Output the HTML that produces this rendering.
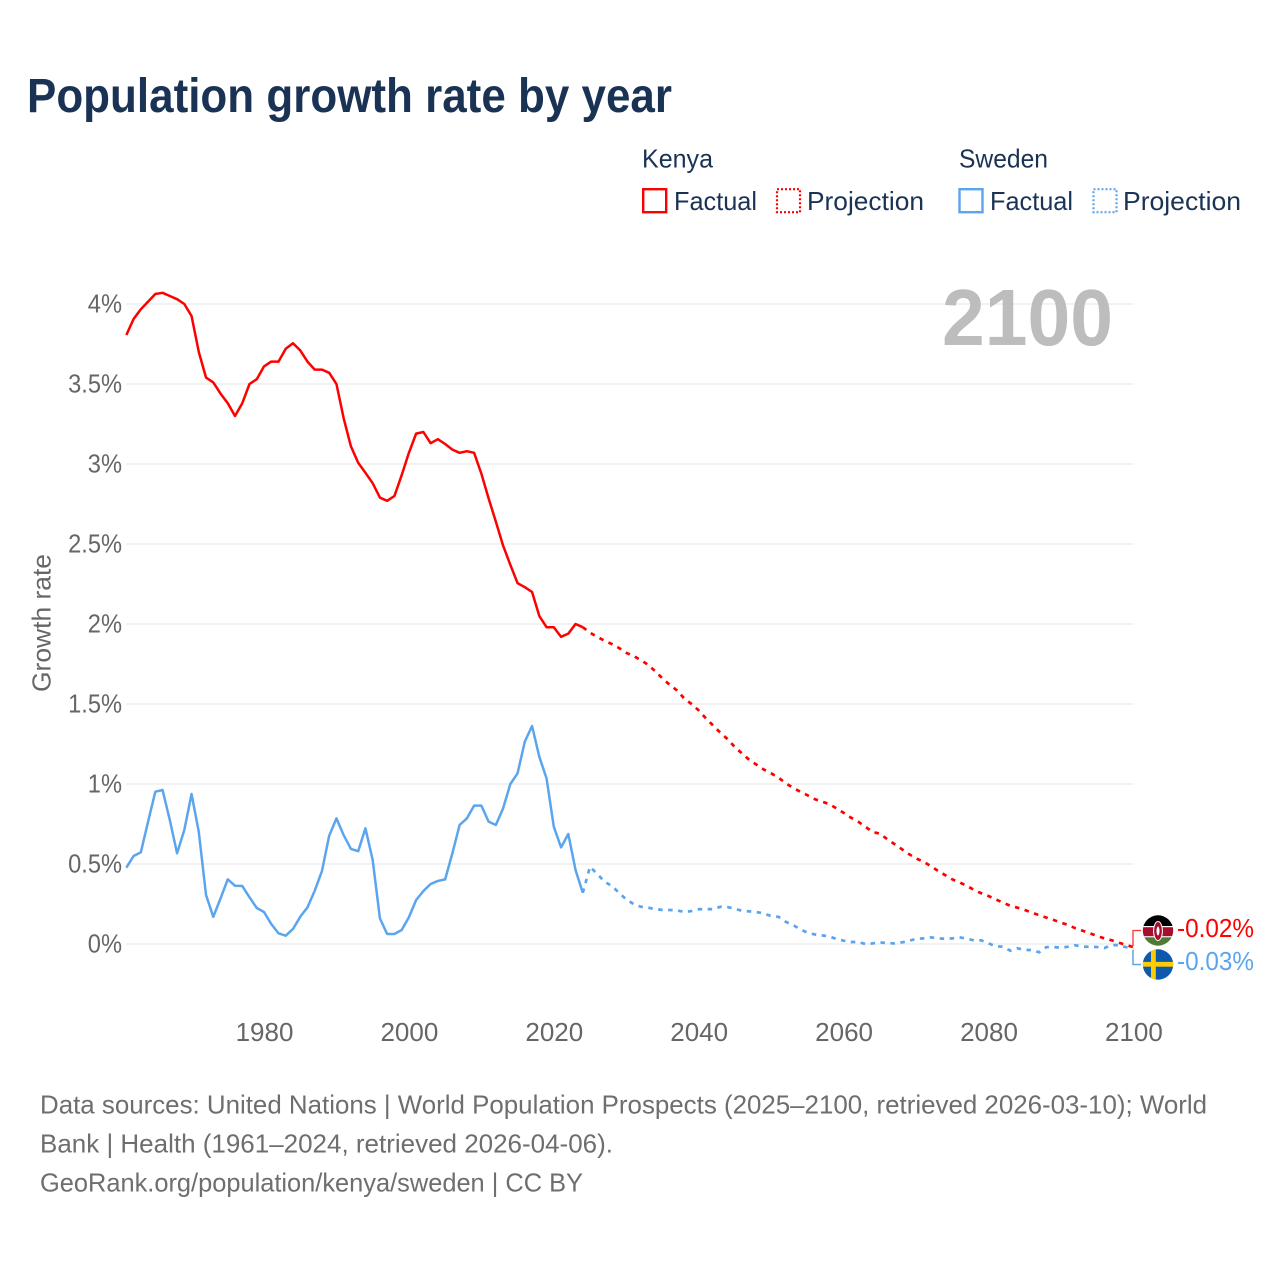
<!DOCTYPE html>
<html lang="en">
<head>
<meta charset="utf-8">
<title>Population growth rate by year</title>
<style>
  html, body { margin: 0; padding: 0; background: #fff; }
  svg { display: block; }
  text { font-family: "Liberation Sans", sans-serif; }
</style>
</head>
<body>
<svg id="chart" xmlns="http://www.w3.org/2000/svg" width="1280" height="1280" viewBox="0 0 1280 1280">
  <rect x="0" y="0" width="1280" height="1280" fill="#ffffff"/>
  <text x="27" y="112" font-size="48" font-weight="700" fill="#1a3355" textLength="645" lengthAdjust="spacingAndGlyphs">Population growth rate by year</text>

  <g font-size="26" fill="#1a3355">
    <text x="642" y="167.5" textLength="71" lengthAdjust="spacingAndGlyphs">Kenya</text>
    <rect x="643.2" y="189.2" width="23" height="23" fill="none" stroke="#ff0000" stroke-width="2.4"/>
    <text x="674" y="210" textLength="83" lengthAdjust="spacingAndGlyphs">Factual</text>
    <rect x="777" y="189.2" width="23" height="23" fill="none" stroke="#ff0000" stroke-width="2.2" stroke-dasharray="2 2"/>
    <text x="807" y="210" textLength="117" lengthAdjust="spacingAndGlyphs">Projection</text>
    <text x="959" y="167.5" textLength="89" lengthAdjust="spacingAndGlyphs">Sweden</text>
    <rect x="959.5" y="189.2" width="23" height="23" fill="none" stroke="#5ba5ee" stroke-width="2.4"/>
    <text x="990" y="210" textLength="83" lengthAdjust="spacingAndGlyphs">Factual</text>
    <rect x="1093.5" y="189.2" width="23" height="23" fill="none" stroke="#5ba5ee" stroke-width="2.2" stroke-dasharray="2 2"/>
    <text x="1123" y="210" textLength="118" lengthAdjust="spacingAndGlyphs">Projection</text>
  </g>

  <g id="grid"></g>
  <g id="y-ticks"></g>
  <g id="x-ticks"></g>

  <text transform="translate(50.5 623) rotate(-90)" text-anchor="middle" font-size="26" fill="#666666" textLength="138" lengthAdjust="spacingAndGlyphs">Growth rate</text>

  <text x="942" y="345" font-size="80" font-weight="700" fill="#bdbdbd" textLength="171" lengthAdjust="spacingAndGlyphs">2100</text>

  <g id="series"></g>

  <path d="M1133 946V930.5H1141" fill="none" stroke="#ff0000" stroke-width="1.3" opacity="0.8"/>
  <path d="M1133 950V964.5H1141" fill="none" stroke="#5ba5ee" stroke-width="1.5"/>

  <defs>
    <clipPath id="kenya-clip"><circle cx="1158" cy="930.5" r="15.2"/></clipPath>
    <clipPath id="sweden-clip"><circle cx="1158" cy="964.5" r="15.2"/></clipPath>
  </defs>
  <g clip-path="url(#kenya-clip)">
    <rect x="1142" y="915" width="32" height="11" fill="#000000"/>
    <rect x="1142" y="926" width="32" height="11.5" fill="#ffffff"/>
    <rect x="1142" y="927.2" width="32" height="9" fill="#a50f2d"/>
    <rect x="1142" y="937.3" width="32" height="10" fill="#4f7a35"/>
    <ellipse cx="1158" cy="931" rx="4.4" ry="9.5" fill="#a50f2d" stroke="#ffffff" stroke-width="1"/>
    <ellipse cx="1158" cy="931" rx="1.5" ry="4.5" fill="#ffffff"/>
  </g>
  <g clip-path="url(#sweden-clip)">
    <rect x="1142" y="949" width="32" height="32" fill="#0d5aab"/>
    <rect x="1151" y="949" width="4.8" height="32" fill="#fecc02"/>
    <rect x="1142" y="961.9" width="32" height="4.8" fill="#fecc02"/>
  </g>

  <text x="1177" y="937" font-size="26" fill="#ff0000" textLength="77" lengthAdjust="spacingAndGlyphs">-0.02%</text>
  <text x="1177" y="970" font-size="26" fill="#5ba5ee" textLength="77" lengthAdjust="spacingAndGlyphs">-0.03%</text>

  <g font-size="26" fill="#6e6e6e">
    <text x="40" y="1113.5" textLength="1167" lengthAdjust="spacingAndGlyphs">Data sources: United Nations | World Population Prospects (2025–2100, retrieved 2026-03-10); World</text>
    <text x="40" y="1152.5" textLength="573" lengthAdjust="spacingAndGlyphs">Bank | Health (1961–2024, retrieved 2026-04-06).</text>
    <text x="40" y="1191.5" textLength="543" lengthAdjust="spacingAndGlyphs">GeoRank.org/population/kenya/sweden | CC BY</text>
  </g>
</svg>

<script>
const factualStartYear = 1961;
const projectionStartYear = 2024;
const yTickValues = [0, 0.5, 1, 1.5, 2, 2.5, 3, 3.5, 4];
const xTickYears = [1980, 2000, 2020, 2040, 2060, 2080, 2100];

const kenyaFactual = [
  3.806, 3.906, 3.967, 4.015, 4.0625, 4.07, 4.05, 4.03, 4.0, 3.925,
  3.70, 3.54, 3.51, 3.44, 3.38, 3.30, 3.38, 3.50, 3.53, 3.61,
  3.64, 3.64, 3.72, 3.755, 3.71, 3.64, 3.59, 3.59, 3.57, 3.50,
  3.285, 3.11, 3.008, 2.945, 2.88, 2.79, 2.77, 2.80, 2.93, 3.07,
  3.19, 3.20, 3.13, 3.155, 3.125, 3.09, 3.07, 3.08, 3.07, 2.94,
  2.785, 2.64, 2.49, 2.37, 2.255, 2.23, 2.20, 2.05, 1.98, 1.98,
  1.92, 1.94, 2.0, 1.98
];

const kenyaProjection = [
  1.98, 1.945, 1.92, 1.895, 1.875, 1.85, 1.82, 1.80, 1.775, 1.745,
  1.705, 1.66, 1.62, 1.585, 1.535, 1.50, 1.46, 1.41, 1.365, 1.32,
  1.28, 1.23, 1.19, 1.15, 1.12, 1.09, 1.067, 1.04, 1.005, 0.977,
  0.952, 0.93, 0.906, 0.89, 0.875, 0.848, 0.82, 0.79, 0.765, 0.733,
  0.70, 0.69, 0.656, 0.625, 0.594, 0.5625, 0.535, 0.515, 0.4875, 0.458,
  0.431, 0.404, 0.385, 0.364, 0.3375, 0.317, 0.30, 0.279, 0.258, 0.239,
  0.227, 0.2125, 0.196, 0.18, 0.165, 0.15, 0.133, 0.119, 0.098, 0.083,
  0.067, 0.05, 0.035, 0.023, 0.008, -0.006, -0.02
];

const swedenFactual = [
  0.477, 0.55, 0.573, 0.765, 0.952, 0.9625, 0.775, 0.567, 0.7125, 0.9375,
  0.70, 0.306, 0.17, 0.285, 0.404, 0.364, 0.3625, 0.292, 0.225, 0.20,
  0.125, 0.067, 0.052, 0.094, 0.17, 0.229, 0.333, 0.456, 0.677, 0.785,
  0.68, 0.594, 0.58, 0.723, 0.525, 0.16, 0.0625, 0.0625, 0.0875, 0.167,
  0.275, 0.331, 0.375, 0.394, 0.404, 0.567, 0.744, 0.785, 0.865, 0.865,
  0.765, 0.744, 0.848, 1.0, 1.067, 1.265, 1.3625, 1.17, 1.035, 0.733,
  0.604, 0.6875, 0.4625, 0.32
];

const swedenProjection = [
  0.32, 0.483, 0.4375, 0.39, 0.3625, 0.32, 0.279, 0.25, 0.233, 0.227,
  0.219, 0.2125, 0.2125, 0.21, 0.20, 0.206, 0.217, 0.219, 0.217, 0.233,
  0.231, 0.219, 0.208, 0.204, 0.20, 0.19, 0.175, 0.17, 0.139, 0.119,
  0.092, 0.071, 0.06, 0.054, 0.048, 0.031, 0.021, 0.0125, 0.0125, 0.0,
  0.004, 0.01, 0.006, 0.004, 0.01, 0.0187, 0.033, 0.035, 0.042, 0.035,
  0.033, 0.035, 0.042, 0.033, 0.023, 0.023, 0.004, -0.014, -0.017, -0.042,
  -0.027, -0.0375, -0.0375, -0.052, -0.019, -0.019, -0.023, -0.017, -0.008, -0.017,
  -0.017, -0.019, -0.025, -0.006, -0.008, -0.02, -0.03
];

const SVG_NS = 'http://www.w3.org/2000/svg';

function xScale(year) {
  return 264 + (year - 1980) * (1133.4 - 264) / 120;
}

function yScale(value) {
  return 944 - value * 160;
}

function linePath(values, startYear) {
  return values.map(function (v, i) {
    return (i === 0 ? 'M' : 'L') + xScale(startYear + i).toFixed(2) + ' ' + yScale(v).toFixed(2);
  }).join('');
}

const gridGroup = document.getElementById('grid');
const yTickGroup = document.getElementById('y-ticks');
const xTickGroup = document.getElementById('x-ticks');
const seriesGroup = document.getElementById('series');

yTickValues.forEach(function (v) {
  const line = document.createElementNS(SVG_NS, 'line');
  
  
  line.setAttribute('x1', 126);
  line.setAttribute('x2', 1133);
  line.setAttribute('y1', yScale(v));
  line.setAttribute('y2', yScale(v));
  line.setAttribute('stroke', '#ededed');
  line.setAttribute('stroke-width', 1.5);
  gridGroup.appendChild(line);

  const label = document.createElementNS(SVG_NS, 'text');
  
  
  label.setAttribute('x', 122);
  label.setAttribute('y', yScale(v) + 8.5);
  label.setAttribute('text-anchor', 'end');
  label.setAttribute('font-size', 26);
  label.setAttribute('fill', '#666666');
  label.textContent = v + '%';
  yTickGroup.appendChild(label);
  label.setAttribute('textLength', (label.getComputedTextLength() * 0.91).toFixed(1));
  label.setAttribute('lengthAdjust', 'spacingAndGlyphs');
});

xTickYears.forEach(function (year) {
  const label = document.createElementNS(SVG_NS, 'text');
  
  
  label.setAttribute('x', xScale(year) + 0.5);
  label.setAttribute('y', 1041);
  label.setAttribute('text-anchor', 'middle');
  label.setAttribute('font-size', 26);
  label.setAttribute('fill', '#666666');
  label.textContent = year;
  xTickGroup.appendChild(label);
});

function addSeries(name, values, startYear, color, dashed) {
  const path = document.createElementNS(SVG_NS, 'path');
  
  
  path.setAttribute('d', linePath(values, startYear));
  path.setAttribute('fill', 'none');
  path.setAttribute('stroke', color);
  path.setAttribute('stroke-width', dashed ? 2.7 : 2.5);
  path.setAttribute('stroke-linejoin', 'round');
  if (dashed) {
    path.setAttribute('stroke-dasharray', '4.5 5.5');
  }
  seriesGroup.appendChild(path);
}

addSeries('sweden-factual-line', swedenFactual, factualStartYear, '#5ba5ee', false);
addSeries('sweden-projection-line', swedenProjection, projectionStartYear, '#5ba5ee', true);
addSeries('kenya-factual-line', kenyaFactual, factualStartYear, '#ff0000', false);
addSeries('kenya-projection-line', kenyaProjection, projectionStartYear, '#ff0000', true);
</script>
</body>
</html>
